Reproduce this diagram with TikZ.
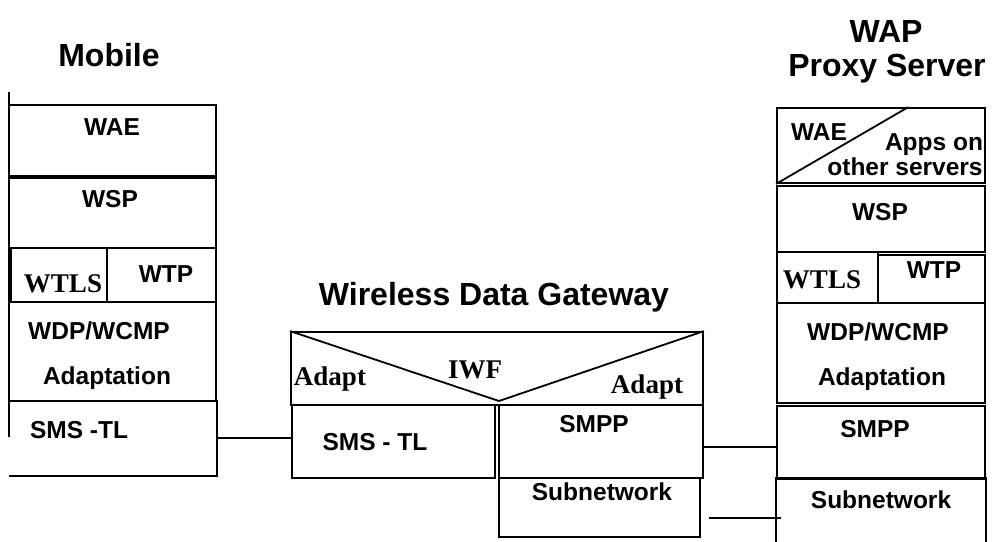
\documentclass[tikz,border=0pt]{standalone}
\usepackage{fontspec}
\setmainfont{Liberation Sans}
\newfontfamily\timesfont{Liberation Serif}
\usetikzlibrary{calc,fit,positioning}

\begin{document}
\begin{tikzpicture}[x=1pt,y=-1pt,line width=1.8pt,
  layer/.style={draw,rectangle,inner sep=0pt},
  lbl/.style={anchor=base,inner sep=0pt,font=\fontsize{24.5}{28}\selectfont\bfseries},
  slbl/.style={anchor=base,inner sep=0pt,font=\fontsize{27}{30}\selectfont\timesfont\bfseries},
  ttl/.style={anchor=base,inner sep=0pt,font=\fontsize{32}{36}\selectfont\bfseries}]
\useasboundingbox (0,0) rectangle (995,541);

% layer boxes: name / corner / corner
        \foreach \n/\xa/\ya/\xb/\yb in {mWAE/9/105/216/176, mWSP/9/178/216/248,
                mWTLS/11/248/107/302, mWTP/107/248/216/302, mWDP/9/302/216/401,
                gIWF/291/332/703/405, gSMS/292/405/495/478, gSMPP/499/405/703/478,
                gSub/499/478/700/537,
                wWAE/777/108/985/183, wWSP/777/186/985/252, wWTLS/777/252/878/303,
                wWTP/878/255/985/303, wWDP/777/303/985/403, wSMPP/777/406/985/479} {
                \coordinate (\n-a) at (\xa,\ya);
                \coordinate (\n-b) at (\xb,\yb);
                \node[layer,fit=(\n-a) (\n-b)] (\n) {};
        }
        % open boxes
        \coordinate (mSMS-a) at (9,401);
        \coordinate (mSMS-b) at (216,475);
        \node[inner sep=0pt,fit=(mSMS-a) (mSMS-b)] (mSMS) {};
        \coordinate (wSub-a) at (777,479);
        \coordinate (wSub-b) at (985,541);
        \node[inner sep=0pt,fit=(wSub-a) (wSub-b)] (wSub) {};
        \draw (mSMS.north east) -- (mSMS.south east) -- ($(mSMS.south west)+(1,0)$);
        \draw (9,92) -- (9,437);
        \draw (wSub.south west) -- (wSub.north west) -- (wSub.north east) -- (wSub.south east);

        % IWF split and WAE split
        \coordinate (apex) at (499,401);
        \draw (gIWF.north west) -- (apex) -- (gIWF.north east);
        \draw (wWAE.south west) -- ($(wWAE.north west)!0.63!(wWAE.north east)$);

% titles
        \node[ttl] (tMobile) at (109,66) {Mobile};
        \node[ttl] (tGateway) at (494,305) {Wireless Data Gateway};
        \node[ttl] (tWap) at (886,42) {WAP};
        \node[ttl] (tProxy) at (887,76) {Proxy Server};

% mobile stack
        \node[lbl] (lmWAE) at (112,135) {WAE};
        \node[lbl] (lmWSP) at (110,207) {WSP};
        \node[slbl] (lmWTLS) at (63,292) {WTLS};
        \node[lbl] (lmWTP) at (166,282) {WTP};
        \node[lbl] (lmWDP) at (99,339) {WDP/WCMP};
        \node[lbl] (lmAdapt) at (107,384) {Adaptation};
        \node[lbl] (lmSMS) at (79,438) {SMS -TL};

% gateway
        \node[slbl] (lgAdaptL) at (330,385) {Adapt};
        \node[slbl] (lgIWF) at (475,378) {IWF};
        \node[slbl] (lgAdaptR) at (647,393) {Adapt};
        \node[lbl] (lgSMS) at (375,450) {SMS - TL};
        \node[lbl] (lgSMPP) at (594,432) {SMPP};
        \node[lbl] (lgSub) at (602,500) {Subnetwork};

% proxy server stack
        \node[lbl] (lwWAE) at (819,140) {WAE};
        \node[lbl] (lwApps) at (934,150) {Apps on};
        \node[lbl] (lwOther) at (905,175) {other servers};
        \node[lbl] (lwWSP) at (880,220) {WSP};
        \node[slbl] (lwWTLS) at (822,288) {WTLS};
        \node[lbl] (lwWTP) at (934,278) {WTP};
        \node[lbl] (lwWDP) at (878,340) {WDP/WCMP};
        \node[lbl] (lwAdapt) at (882,385) {Adaptation};
        \node[lbl] (lwSMPP) at (875,437) {SMPP};
        \node[lbl] (lwSub) at (881,508) {Subnetwork};

% links
        \draw (mSMS.east) -- (mSMS.east -| gSMS.west);
        \coordinate (smppLink) at ($(gSMPP.east)+(0,5.5)$);
        \draw (smppLink) -- (smppLink -| wSMPP.west);
        \coordinate (subLink) at ($(gSub.east)+(8,10.5)$);
        \draw (subLink) -- ($(subLink -| wSub.west)+(5,0)$);
\end{tikzpicture}
\end{document}
